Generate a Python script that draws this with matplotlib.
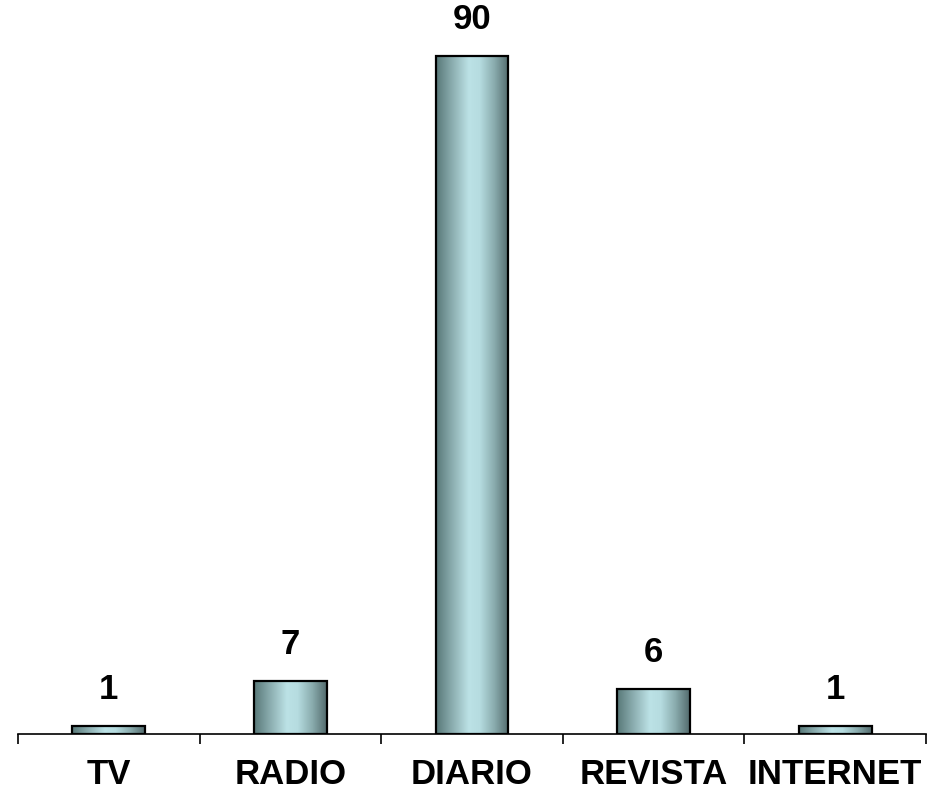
import numpy as np
import matplotlib
matplotlib.use("Agg")
import matplotlib.pyplot as plt
from matplotlib.colors import LinearSegmentedColormap

categories = ["TV", "RADIO", "DIARIO", "REVISTA", "INTERNET"]
values = [1, 7, 90, 6, 1]

plt.rcParams['font.family'] = ['Liberation Sans', 'DejaVu Sans']

fig = plt.figure(figsize=(9.28, 7.92), dpi=100)
ax = fig.add_axes([18/928, 58/792, 908/928, 715.6/792])
ax.set_xlim(-0.5, len(categories) - 0.5)
ax.set_ylim(0, 95)

cmap = LinearSegmentedColormap.from_list(
    "bar", [(0.0, "#587878"), (0.2, "#86a8aa"), (0.45, "#bce2e6"),
            (0.6, "#b6dce0"), (0.8, "#8aacae"), (1.0, "#536b6d")])
grad = np.linspace(0, 1, 256).reshape(1, -1)

x = np.arange(len(categories))
bars = ax.bar(x, values, width=0.4, facecolor="none", edgecolor="black",
              linewidth=1.6, zorder=3)
for b in bars:
    im = ax.imshow(grad, cmap=cmap, aspect="auto",
                   extent=[b.get_x(), b.get_x() + b.get_width(), 0, b.get_height()],
                   zorder=2)
    im.set_clip_path(b)

for xi, v in zip(x, values):
    ax.annotate(str(v), (xi, v), xytext=(0, 20), textcoords="offset pixels",
                ha="center", va="bottom", fontsize=25, fontweight="bold")

for s in ["top", "right", "left"]:
    ax.spines[s].set_visible(False)
ax.spines["bottom"].set_linewidth(1.2)
ax.set_yticks([])
ax.set_xticks(np.arange(-0.5, len(categories), 1.0))
ax.set_xticklabels([])
ax.tick_params(axis="x", direction="out", length=7, width=1.2)
ax.set_xticks(x, minor=True)
ax.set_xticklabels(categories, minor=True, fontsize=25, fontweight="bold")
ax.tick_params(axis="x", which="minor", length=0, pad=17)

fig.savefig("out.png", dpi=100, facecolor="white")
